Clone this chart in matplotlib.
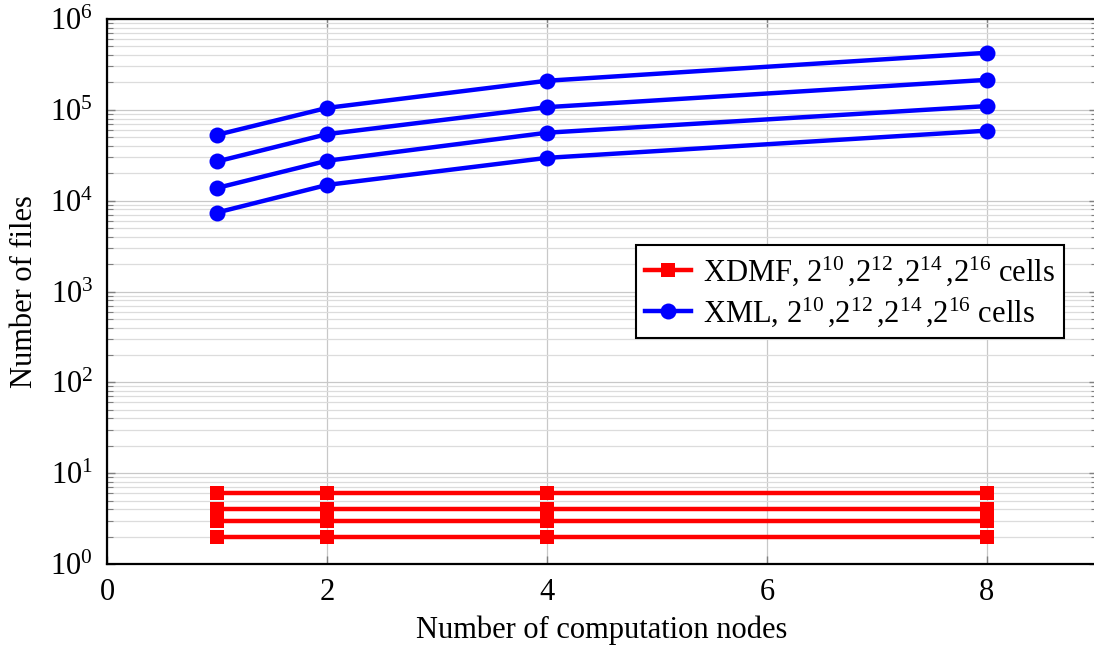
import numpy as np
import matplotlib
matplotlib.use('Agg')
import matplotlib.pyplot as plt
from matplotlib.ticker import FixedLocator, FixedFormatter, NullFormatter

plt.rcParams['font.family'] = ['Liberation Serif', 'DejaVu Serif']
plt.rcParams['mathtext.fontset'] = 'custom'
plt.rcParams['mathtext.rm'] = 'Liberation Serif'
plt.rcParams['mathtext.it'] = 'Liberation Serif:italic'
plt.rcParams['font.size'] = 22

nodes = [1, 2, 4, 8]

# XML file counts, one list per cell count (2^16, 2^14, 2^12, 2^10)
xml_2_16 = [53000, 105000, 209000, 425000]
xml_2_14 = [27000, 54000, 107000, 214000]
xml_2_12 = [13800, 27500, 56000, 110000]
xml_2_10 = [7400, 14900, 29600, 59000]

# XDMF file counts
xdmf_a = [6, 6, 6, 6]
xdmf_b = [4, 4, 4, 4]
xdmf_c = [3, 3, 3, 3]
xdmf_d = [2, 2, 2, 2]

xml_series = [xml_2_16, xml_2_14, xml_2_12, xml_2_10]
xdmf_series = [xdmf_a, xdmf_b, xdmf_c, xdmf_d]

x_ticks = [0, 2, 4, 6, 8]
y_exps = [0, 1, 2, 3, 4, 5, 6]

cells_label = r'$2^{10}\,$,$2^{12}\,$,$2^{14}\,$,$2^{16}$ cells'

fig = plt.figure(figsize=(10.94, 6.48), dpi=100)
ax = fig.add_axes([107/1094, 84/648, 990/1094, 545/648])

for i, s in enumerate(xdmf_series):
    ax.plot(nodes, s, color='red', lw=3.2, marker='s', ms=10.5, mew=0,
            label='XDMF, ' + cells_label if i == 0 else None, zorder=3)
for i, s in enumerate(xml_series):
    ax.plot(nodes, s, color='blue', lw=3.2, marker='o', ms=11.5, mew=0,
            label='XML, ' + cells_label if i == 0 else None, zorder=3)

ax.set_yscale('log')
ax.set_ylim(1, 1e6)
ax.set_xlim(0, 9)
ax.xaxis.set_major_locator(FixedLocator(x_ticks))
ax.yaxis.set_major_locator(FixedLocator([10.0**e for e in y_exps]))
ax.yaxis.set_major_formatter(FixedFormatter([r'$10^{%d}$' % e for e in y_exps]))
minors = [m * 10.0**e for e in y_exps[:-1] for m in range(2, 10)]
ax.yaxis.set_minor_locator(FixedLocator(minors))
ax.yaxis.set_minor_formatter(NullFormatter())

ax.grid(True, which='major', color='#c8c8c8', lw=0.9)
ax.grid(True, which='minor', axis='y', color='#dcdcdc', lw=0.9)
ax.set_axisbelow(True)

ax.tick_params(which='both', direction='in', top=True, right=True, color='#808080')
ax.tick_params(which='major', length=6, width=1, pad=10, labelsize=22)
ax.tick_params(which='minor', length=4, width=0.8)
for sp in ax.spines.values():
    sp.set_linewidth(1.6)

ax.set_xlabel('Number of computation nodes', labelpad=6)
ax.set_ylabel('Number of files', labelpad=8)

leg = ax.legend(loc='upper right', bbox_to_anchor=(0.967, 0.585), fancybox=False,
                edgecolor='black', framealpha=1, borderpad=0.3, handlelength=1.5,
                handletextpad=0.4, labelspacing=0.25, borderaxespad=0)
leg.get_frame().set_linewidth(1.5)

fig.savefig('out.png', dpi=100)
